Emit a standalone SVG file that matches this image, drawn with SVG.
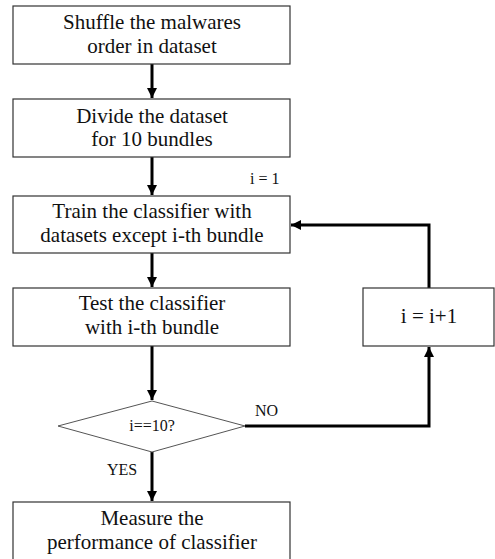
<svg xmlns="http://www.w3.org/2000/svg" width="495" height="559" viewBox="0 0 495 559">
<style>
.box{fill:#fff;stroke:#333;stroke-width:1.2}
.dia{fill:#fff;stroke:#555;stroke-width:1}
.t{font-family:"Liberation Serif","DejaVu Serif",serif;font-size:21px;fill:#111;text-anchor:middle}
.s{font-family:"Liberation Serif","DejaVu Serif",serif;font-size:16px;fill:#111}
.c{fill:none;stroke:#000;stroke-width:3}
</style>
<defs>
<marker id="ah" viewBox="0 0 10 10" refX="10" refY="5" markerWidth="10" markerHeight="10" markerUnits="userSpaceOnUse" orient="auto">
<path d="M0,0 L10,5 L0,10 z" fill="#000"/>
</marker>
</defs>
<rect width="495" height="559" fill="#fff"/>
<g id="connectors">
<line class="c" x1="152" y1="64" x2="152" y2="98" marker-end="url(#ah)"/>
<line class="c" x1="152" y1="157" x2="152" y2="195" marker-end="url(#ah)"/>
<line class="c" x1="152" y1="253" x2="152" y2="287" marker-end="url(#ah)"/>
<line class="c" x1="152" y1="346" x2="152" y2="400" marker-end="url(#ah)"/>
<line class="c" x1="152" y1="452" x2="152" y2="501" marker-end="url(#ah)"/>
<polyline class="c" points="245,426 429,426 429,347" marker-end="url(#ah)"/>
<polyline class="c" points="429,288 429,225 291,225" marker-end="url(#ah)"/>
<text class="s" x="250" y="184">i = 1</text>
<text class="s" x="255" y="416">NO</text>
<text class="s" x="107" y="475">YES</text>
</g>
<g id="n1"><rect class="box" x="13" y="6" width="277" height="58"/><text class="t" x="152" y="29">Shuffle the malwares</text><text class="t" x="152" y="53">order in dataset</text></g>
<g id="n2"><rect class="box" x="13" y="99" width="277" height="58"/><text class="t" x="152" y="123">Divide the dataset</text><text class="t" x="152" y="146">for 10 bundles</text></g>
<g id="n3"><rect class="box" x="13" y="196" width="277" height="57"/><text class="t" x="152" y="218">Train the classifier with</text><text class="t" x="152" y="242">datasets except i-th bundle</text></g>
<g id="n4"><rect class="box" x="13" y="288" width="277" height="58"/><text class="t" x="152" y="310">Test the classifier</text><text class="t" x="152" y="334">with i-th bundle</text></g>
<g id="n5"><rect class="box" x="363" y="288" width="131" height="58"/><text class="t" x="429" y="323">i = i+1</text></g>
<g id="n6"><polygon class="dia" points="152,401 245,426 152,452 58,426"/><text class="s" x="152" y="431" text-anchor="middle">i==10?</text></g>
<g id="n7"><rect class="box" x="13" y="502" width="277" height="60"/><text class="t" x="152" y="525">Measure the</text><text class="t" x="152" y="549">performance of classifier</text></g>
</svg>
